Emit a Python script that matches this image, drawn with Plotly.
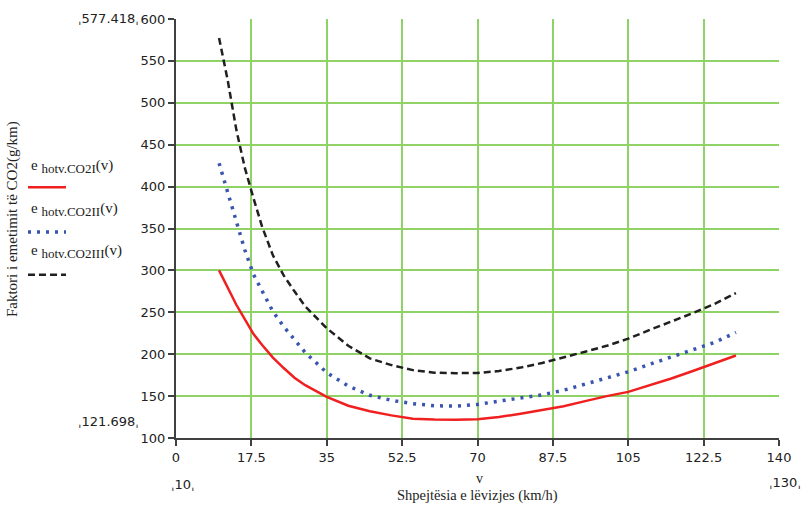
import plotly.graph_objects as go

# ---- data ----
v = [10, 12, 14, 16, 18, 20, 22.5, 25, 27.5, 30, 35, 40, 45, 50, 55, 60, 65, 70,
     75, 80, 85, 90, 95, 100, 105, 110, 115, 120, 125, 130]
e_co2_I = [300, 279, 259, 241.5, 224, 211, 196, 183.5, 172, 163, 149, 138.5, 132, 127,
           123, 122, 121.7, 122.4, 125, 129, 133.5, 138, 144, 150, 155, 163, 171,
           180, 189, 198.5]
e_co2_II = [428, 393, 356, 324, 295, 275, 251, 233, 218, 202, 178, 162, 151, 145,
            141, 138.5, 138, 140, 144, 148, 151.5, 157, 164, 172, 179, 188, 197,
            205, 214, 226]
e_co2_III = [577.4, 527, 468, 422, 386, 352, 318, 294, 275, 257, 231, 210, 195, 187,
             181, 178, 177.4, 177.5, 180, 184, 189.5, 196, 203, 210, 218.5, 229,
             239, 249, 260, 273]

x_ticks = [0, 17.5, 35, 52.5, 70, 87.5, 105, 122.5, 140]
y_ticks = [100, 150, 200, 250, 300, 350, 400, 450, 500, 550, 600]
legend_subs = ["hotv.CO2I", "hotv.CO2II", "hotv.CO2III"]
y_min_label, y_max_label = "121.698", "577.418"
x_min_label, x_max_label = "10", "130"

W, H = 803, 512
L, R, T, B = 176, 24, 17, 74
PW, PH = W - L - R, H - T - B


def px(xp):
    return (xp - L) / PW


def py(yp):
    return (H - B - yp) / PH


GRID = "#8fd266"
AXIS = "#404040"
SERIF = "Liberation Serif"
SANS = "DejaVu Sans"

fig = go.Figure()
fig.add_trace(go.Scatter(x=v, y=e_co2_I, mode="lines",
                         line=dict(color="#f02020", width=2.5), showlegend=False))
fig.add_trace(go.Scatter(x=v, y=e_co2_II, mode="lines",
                         line=dict(color="#3a55b0", width=3.5, dash="3px,6px"),
                         showlegend=False))
fig.add_trace(go.Scatter(x=v, y=e_co2_III, mode="lines",
                         line=dict(color="#202020", width=2.5, dash="7px,4px"),
                         showlegend=False))

fig.update_layout(
    width=W, height=H,
    margin=dict(l=L, r=R, t=T, b=B, pad=0),
    paper_bgcolor="white", plot_bgcolor="white",
    xaxis=dict(range=[0, 140], tickvals=x_ticks,
               ticktext=[f"{t:g}" for t in x_ticks],
               showgrid=True, gridcolor=GRID, gridwidth=2,
               showline=True, linecolor=AXIS, linewidth=2,
               ticks="outside", ticklen=6, tickcolor=AXIS, tickwidth=2,
               tickfont=dict(family=SANS, size=13, color="#222"),
               zeroline=False),
    yaxis=dict(range=[100, 600], tickvals=y_ticks,
               showgrid=True, gridcolor=GRID, gridwidth=2,
               showline=True, linecolor=AXIS, linewidth=2,
               ticks="outside", ticklen=6, tickcolor=AXIS, tickwidth=2,
               tickfont=dict(family=SANS, size=13, color="#222"),
               zeroline=False),
)

ann = []


def add_text(x, y, text, size=14, family=SERIF, xanchor="center", angle=0):
    ann.append(dict(x=px(x), y=py(y), xref="paper", yref="paper", text=text,
                    showarrow=False, xanchor=xanchor, yanchor="middle",
                    textangle=angle, font=dict(family=family, size=size, color="#222")))


add_text(12, 218, "Faktori i emetimit të CO2(g/km)", size=15, angle=-90)
add_text(479, 479, "v", size=14)
add_text(477, 496, "Shpejtësia e lëvizjes (km/h)", size=14.5)
add_text(108, 16, "ˌ" + y_max_label + "ˌ", size=13, family=SANS)
add_text(108, 421, "ˌ" + y_min_label + "ˌ", size=13, family=SANS)
add_text(183, 485, "ˌ" + x_min_label + "ˌ", size=13, family=SANS)
add_text(785, 483, "ˌ" + x_max_label + "ˌ", size=13, family=SANS)

leg_y = [165, 208, 251]
for sub, yy in zip(legend_subs, leg_y):
    add_text(29, yy, "e <sub><span style='font-size:13px'>" + sub + "</span></sub>(v)",
             size=15, xanchor="left")

fig.update_layout(annotations=ann)

shapes = [
    dict(type="line", xref="paper", yref="paper", x0=px(28), x1=px(66),
         y0=py(186), y1=py(186), line=dict(color="#f02020", width=2.5)),
    dict(type="line", xref="paper", yref="paper", x0=px(28), x1=px(66),
         y0=py(231), y1=py(231), line=dict(color="#3a55b0", width=3.5, dash="3px,6px")),
    dict(type="line", xref="paper", yref="paper", x0=px(28), x1=px(66),
         y0=py(274), y1=py(274), line=dict(color="#202020", width=2.5, dash="7px,4px")),
]
fig.update_layout(shapes=shapes)

fig.write_html("out.html")
